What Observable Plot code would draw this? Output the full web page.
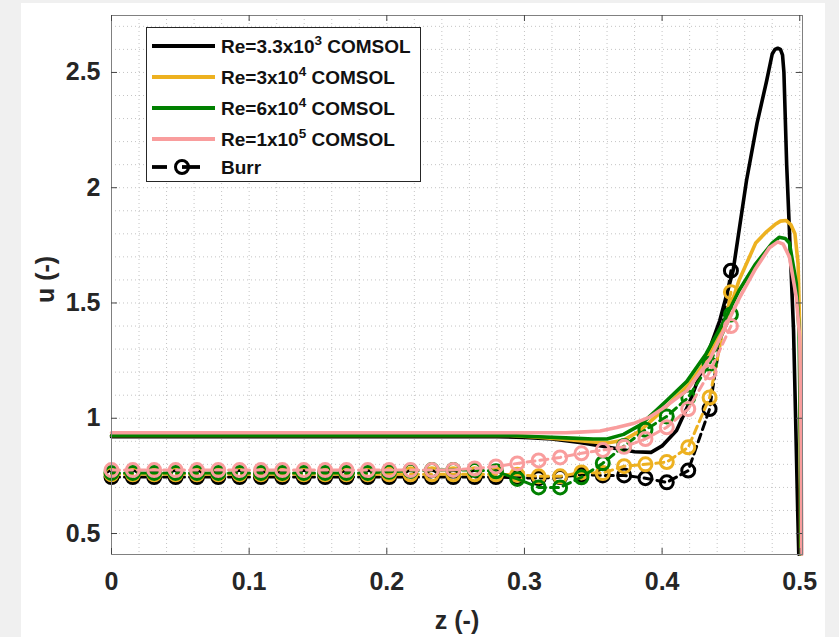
<!DOCTYPE html>
<html><head><meta charset="utf-8">
<script src="https://cdn.jsdelivr.net/npm/d3@7"></script>
<script src="https://cdn.jsdelivr.net/npm/@observablehq/plot@0.6"></script>
<style>
html,body{margin:0;padding:0;background:#f0f0f0;width:839px;height:637px;overflow:hidden;}
#panel{position:absolute;left:21px;top:3px;width:804px;height:634px;background:#fff;}
#chart{position:absolute;left:0;top:0;}
#legend{position:absolute;left:146px;top:27px;}
</style></head><body>
<div id="panel"></div><div id="chart"></div><div id="legend"></div>
<script>
// ---- data ----
const xTicks = [0, 0.1, 0.2, 0.3, 0.4, 0.5];
const yTicks = [0.5, 1, 1.5, 2, 2.5];
const seriesNames = ["Re=3.3x10", "Re=3x10", "Re=6x10", "Re=1x10"];
const seriesExp = ["3", "4", "4", "5"];
const seriesColors = ["#000000", "#edb120", "#008000", "#f99d9d"];

const zBlack = [0, 0.1, 0.2, 0.28, 0.3, 0.32, 0.34, 0.36, 0.38, 0.392, 0.40, 0.4105, 0.42, 0.4323, 0.4419, 0.4516, 0.4613, 0.469, 0.476, 0.48, 0.482, 0.484, 0.486, 0.4875, 0.4885, 0.4905, 0.4935, 0.4955, 0.497, 0.4985, 0.4993];
const uBlack = [0.92, 0.92, 0.92, 0.92, 0.917, 0.91, 0.895, 0.875, 0.855, 0.852, 0.88, 0.947, 1.07, 1.265, 1.424, 1.641, 2.03, 2.28, 2.465, 2.58, 2.6, 2.605, 2.6, 2.575, 2.5, 2.1, 1.67, 1.38, 1.0, 0.6, 0.41];

const zYellow = [0, 0.1, 0.2, 0.29, 0.31, 0.33, 0.35, 0.36, 0.372, 0.384, 0.395, 0.408, 0.42, 0.432, 0.444, 0.456, 0.468, 0.476, 0.482, 0.486, 0.49, 0.4935, 0.4965, 0.4988, 0.5, 0.5007];
const uYellow = [0.925, 0.925, 0.925, 0.925, 0.918, 0.908, 0.897, 0.893, 0.905, 0.945, 1.005, 1.08, 1.15, 1.25, 1.38, 1.6, 1.76, 1.81, 1.84, 1.855, 1.858, 1.84, 1.8, 1.67, 1.38, 0.41];

const zGreen = [0, 0.1, 0.2, 0.29, 0.31, 0.33, 0.35, 0.36, 0.372, 0.384, 0.395, 0.403, 0.418, 0.432, 0.444, 0.456, 0.468, 0.48, 0.485, 0.4895, 0.4925, 0.4975, 0.4995, 0.5005, 0.501];
const uGreen = [0.925, 0.925, 0.925, 0.925, 0.92, 0.915, 0.91, 0.91, 0.93, 0.97, 1.03, 1.075, 1.16, 1.28, 1.41, 1.555, 1.67, 1.76, 1.785, 1.78, 1.76, 1.585, 1.38, 0.9, 0.41];

const zPink = [0, 0.1, 0.2, 0.3, 0.33, 0.34, 0.355, 0.367, 0.379, 0.391, 0.40, 0.418, 0.435, 0.456, 0.468, 0.478, 0.484, 0.488, 0.4925, 0.4975, 0.5, 0.501, 0.5015];
const uPink = [0.937, 0.937, 0.937, 0.937, 0.937, 0.94, 0.945, 0.96, 0.977, 1.005, 1.04, 1.12, 1.26, 1.52, 1.65, 1.74, 1.765, 1.755, 1.7, 1.525, 1.35, 0.9, 0.41];

const zBurr = [0, 0.0155, 0.031, 0.0466, 0.0621, 0.0776, 0.0931, 0.1086, 0.1241, 0.1397, 0.1552, 0.1707, 0.1862, 0.2017, 0.2172, 0.2328, 0.2483, 0.2638, 0.2793, 0.2948, 0.3103, 0.3259, 0.3414, 0.3569, 0.3724, 0.3879, 0.4034, 0.419, 0.4345, 0.45];
const uBurrBlack = [0.745, 0.745, 0.745, 0.745, 0.745, 0.745, 0.745, 0.745, 0.745, 0.745, 0.745, 0.745, 0.745, 0.745, 0.745, 0.745, 0.745, 0.745, 0.745, 0.742, 0.74, 0.745, 0.755, 0.752, 0.752, 0.74, 0.722, 0.773, 1.04, 1.64];
const uBurrYellow = [0.757, 0.757, 0.757, 0.757, 0.757, 0.757, 0.757, 0.757, 0.757, 0.757, 0.757, 0.757, 0.757, 0.757, 0.757, 0.757, 0.757, 0.757, 0.757, 0.755, 0.748, 0.748, 0.765, 0.762, 0.792, 0.8, 0.81, 0.874, 1.09, 1.547];
const uBurrGreen = [0.763, 0.763, 0.763, 0.763, 0.763, 0.763, 0.763, 0.763, 0.763, 0.763, 0.763, 0.763, 0.763, 0.768, 0.772, 0.775, 0.775, 0.775, 0.77, 0.737, 0.7, 0.7, 0.744, 0.805, 0.88, 0.95, 1.008, 1.09, 1.236, 1.45];
const uBurrPink = [0.775, 0.775, 0.775, 0.775, 0.775, 0.775, 0.775, 0.775, 0.775, 0.775, 0.775, 0.775, 0.775, 0.775, 0.775, 0.775, 0.776, 0.782, 0.791, 0.804, 0.817, 0.83, 0.848, 0.862, 0.876, 0.91, 0.961, 1.04, 1.2, 1.4];

// ---- build tables ----
const comsolZ = [zBlack, zYellow, zGreen, zPink];
const comsolU = [uBlack, uYellow, uGreen, uPink];
const burrU = [uBurrBlack, uBurrYellow, uBurrGreen, uBurrPink];

const W = 839, H = 637, ML = 111, MR = 37, MT = 15, MB = 83;
const frameW = W - ML - MR, frameH = H - MT - MB;
const gridStyle = {stroke: "#c4c4c4", strokeOpacity: 1, strokeDasharray: "1,3", strokeWidth: 1};
const tickStyle = {stroke: "#444", strokeWidth: 1};

const dataMarks = [];
seriesColors.forEach((c, s) => {
  const line = comsolZ[s].map((z, i) => ({z, u: comsolU[s][i]}));
  const burr = zBurr.map((z, i) => ({z, u: burrU[s][i]}));
  dataMarks.push(Plot.line(line, {x: "z", y: "u", stroke: c, strokeWidth: 3.6, curve: "linear"}));
  dataMarks.push(Plot.line(burr, {x: "z", y: "u", stroke: c, strokeWidth: 3, strokeDasharray: "8,5"}));
  dataMarks.push(Plot.dot(burr, {x: "z", y: "u", stroke: c, strokeWidth: 3, r: 6.5, fill: "none"}));
});

const chart = Plot.plot({
  width: W, height: H,
  marginLeft: ML, marginRight: MR, marginTop: MT, marginBottom: MB,
  x: {domain: [0, 0.502]},
  y: {domain: [0.409, 2.747]},
  style: {background: "transparent", fontFamily: "'Liberation Sans', Arial, sans-serif", fontWeight: "bold", color: "#262626"},
  marks: [
    Plot.gridX(d3.range(0, 0.5001, 0.02).map(v => +v.toFixed(2)), gridStyle),
    Plot.gridY(d3.range(0.5, 2.7001, 0.1).map(v => +v.toFixed(1)), gridStyle),
    ...dataMarks,
    Plot.frame({stroke: "#808080", strokeWidth: 1}),
    Plot.tickX(xTicks, {x: d => d, insetTop: frameH - 6, ...tickStyle}),
    Plot.tickX(xTicks, {x: d => d, insetBottom: frameH - 6, ...tickStyle}),
    Plot.tickY(yTicks, {y: d => d, insetRight: frameW - 6, ...tickStyle}),
    Plot.tickY(yTicks, {y: d => d, insetLeft: frameW - 6, ...tickStyle}),
    Plot.axisX(xTicks, {anchor: "bottom", tickSize: 0, tickPadding: 18, fontSize: 25, fontWeight: "bold", label: null, tickFormat: d => String(d)}),
    Plot.axisY(yTicks, {anchor: "left", tickSize: 0, tickPadding: 11, fontSize: 25, fontWeight: "bold", label: null, tickFormat: d => String(d)}),
    Plot.text(["z (-)"], {frameAnchor: "bottom", dy: 74, fontSize: 25, fontWeight: "bold", fill: "#262626"}),
    Plot.text(["u (-)"], {frameAnchor: "left", dx: -66, dy: 18, rotate: -90, fontSize: 25, fontWeight: "bold", fill: "#262626"})
  ]
});
document.getElementById("chart").appendChild(chart);

// ---- legend ----
const lg = d3.select("#legend").append("svg").attr("width", 276).attr("height", 156)
  .style("font-family", "'Liberation Sans', Arial, sans-serif").style("font-weight", "bold");
lg.append("rect").attr("x", 0.5).attr("y", 0.5).attr("width", 274).attr("height", 154)
  .attr("fill", "#fff").attr("stroke", "#262626").attr("stroke-width", 1);
const rowY = [19, 50, 81, 112, 140];
seriesNames.forEach((name, i) => {
  lg.append("line").attr("x1", 6).attr("x2", 69).attr("y1", rowY[i]).attr("y2", rowY[i])
    .attr("stroke", seriesColors[i]).attr("stroke-width", 3.8);
  const t = lg.append("text").attr("x", 75).attr("y", rowY[i] + 7).attr("font-size", 19).attr("fill", "#111");
  t.append("tspan").text(name);
  t.append("tspan").attr("dy", -8).attr("font-size", 13.5).text(seriesExp[i]);
  t.append("tspan").attr("dy", 8).text(" COMSOL");
});
lg.append("line").attr("x1", 6).attr("x2", 21).attr("y1", rowY[4]).attr("y2", rowY[4]).attr("stroke", "#000").attr("stroke-width", 3.8);
lg.append("line").attr("x1", 36).attr("x2", 54).attr("y1", rowY[4]).attr("y2", rowY[4]).attr("stroke", "#000").attr("stroke-width", 3.8);
lg.append("circle").attr("cx", 36).attr("cy", rowY[4]).attr("r", 6.5).attr("fill", "none").attr("stroke", "#000").attr("stroke-width", 3);
lg.append("text").attr("x", 75).attr("y", rowY[4] + 7).attr("font-size", 19).attr("fill", "#111").text("Burr");
</script>
</body></html>
